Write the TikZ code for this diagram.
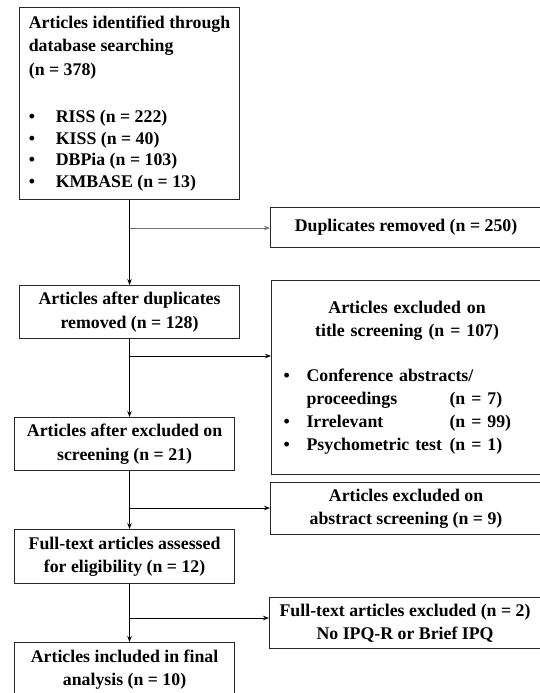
\documentclass[tikz,border=0pt]{standalone}
\usepackage{fontspec}
\setmainfont{Liberation Serif}
\usetikzlibrary{arrows.meta}
\newcommand\blt{\makebox[23pt][l]{\textbullet}}

\begin{document}
\begin{tikzpicture}[x=1pt,y=-1pt,
  box/.style = {draw=black!85,line width=1.1pt,anchor=north west,inner sep=0pt,
    font=\fontsize{17.8}{23.5}\selectfont\bfseries,align=center},
  leftbox/.style = {box,minimum width=220pt,minimum height=#1},
  sidebox/.style = {box,minimum width=271pt,minimum height=#1},
  flow/.style = {line width=0.9pt,-{Stealth[length=6pt,width=4.5pt]}}
  ]
  \useasboundingbox (0,0) rectangle (540,693);
  % main column
  \node[leftbox=192pt,align=left] (idbox) at (19,7) {%
    Articles identified through\\database searching\\(n = 378)\\[23.5pt]
    \makebox[27pt][l]{\textbullet}RISS (n = 222)\\[-1.8pt]
    \makebox[27pt][l]{\textbullet}KISS (n = 40)\\[-1.8pt]
    \makebox[27pt][l]{\textbullet}DBPia (n = 103)\\[-1.8pt]
    \makebox[27pt][l]{\textbullet}KMBASE (n = 13)};
  \node[leftbox=53pt] (afterdup) at (19,285) {Articles after duplicates\\removed (n = 128)};
  \node[leftbox=53pt] (afterscr) at (14,417) {Articles after excluded on\\screening (n = 21)};
  \node[leftbox=54pt] (fulltext) at (14,529) {Full-text articles assessed\\for eligibility (n = 12)};
  \node[leftbox=54pt] (included) at (14,642) {Articles included in final\\analysis (n = 10)};
  % excluded boxes
  \node[sidebox=40pt] (dupbox) at (270,207) {Duplicates removed (n = 250)};
  \node[sidebox=194pt,text width=247pt,inner xsep=12pt,align=left] (titleexcl) at (271,280) {%
    \makebox[247pt][c]{Articles excluded on}\\
    \makebox[247pt][c]{title screening (n = 107)}\\[21.5pt]
    \blt Conference abstracts/\\[-0.5pt]
    \makebox[23pt]{}\makebox[143pt][l]{proceedings}(n = 7)\\[-0.5pt]
    \blt\makebox[143pt][l]{Irrelevant}(n = 99)\\[-0.5pt]
    \blt\makebox[143pt][l]{Psychometric test}(n = 1)};
  \node[sidebox=52pt] (abstrexcl) at (270,482) {Articles excluded on\\abstract screening (n = 9)};
  \node[sidebox=51pt] (ftexcl) at (269,597) {Full-text articles excluded (n = 2)\\No IPQ-R or Brief IPQ};
  % connectors
  \coordinate (trunk) at (129.5,0);
  \coordinate (j1) at (129.5,228);
  \coordinate (j2) at (129.5,356);
  \coordinate (j3) at (129.5,508);
  \coordinate (j4) at (129.5,618);
  \draw[flow] (idbox.south -| trunk) -- (afterdup.north -| trunk);
  \draw[flow] (afterdup.south -| trunk) -- (afterscr.north -| trunk);
  \draw[flow] (afterscr.south -| trunk) -- (fulltext.north -| trunk);
  \draw[flow] (fulltext.south -| trunk) -- (included.north -| trunk);
  \draw[flow,draw=black!55] (j1) -- (dupbox.west |- j1);
  \draw[flow] (j2) -- (titleexcl.west |- j2);
  \draw[flow] (j3) -- (abstrexcl.west |- j3);
  \draw[flow] (j4) -- (ftexcl.west |- j4);
\end{tikzpicture}
\end{document}
